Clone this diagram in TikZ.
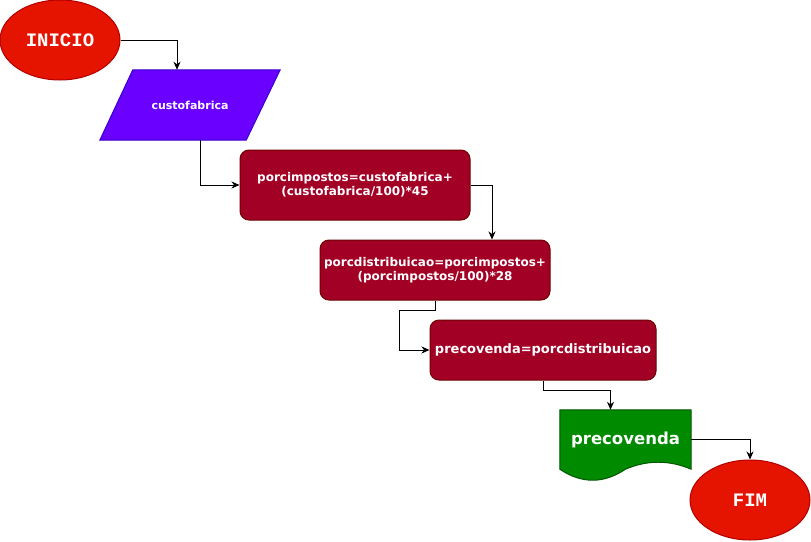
\documentclass[tikz,border=0pt]{standalone}
\usepackage{fontspec}
\setmainfont{DejaVu Sans}
\newfontfamily\termfont{Liberation Mono}
\usepackage{tikz}
\usetikzlibrary{shapes.geometric,arrows.meta,backgrounds}
\definecolor{termFill}{HTML}{E51400}
\definecolor{termLine}{HTML}{B20000}
\definecolor{ioFill}{HTML}{6A00FF}
\definecolor{ioLine}{HTML}{3700CC}
\definecolor{procFill}{HTML}{A20025}
\definecolor{procLine}{HTML}{6F0000}
\definecolor{docFill}{HTML}{008A00}
\definecolor{docLine}{HTML}{005700}
\tikzset{
  termNode/.style={ellipse, fill=termFill, draw=termLine, line width=1pt, minimum width=120pt, minimum height=80pt, inner sep=0pt, text=white, font=\termfont\bfseries\fontsize{19}{21}\selectfont},
  ioNode/.style={rectangle, minimum width=180pt, minimum height=70pt, inner sep=0pt, text=white, font=\bfseries\fontsize{11}{13}\selectfont},
  ioShape/.style={fill=ioFill, draw=ioLine, line width=1pt},
  procNode/.style={rectangle, rounded corners=9pt, fill=procFill, draw=procLine, line width=1pt, minimum width=230pt, minimum height=70pt, inner sep=0pt, align=center, text=white, font=\bfseries\fontsize{12}{14}\selectfont},
  docNode/.style={rectangle, minimum width=131pt, minimum height=59pt, inner sep=0pt, text=white, font=\bfseries\fontsize{16.5}{18}\selectfont},
  docShape/.style={fill=docFill, draw=docLine, line width=1pt},
  flowArrow/.style={draw=black, line width=1pt, -{Stealth[length=8pt, width=7pt, inset=2.5pt]}}
}
\begin{document}
\begin{tikzpicture}[x=1pt, y=-1pt]
  \useasboundingbox (0,0) rectangle (811,541);

  \node[termNode] (inicio) at (60,40) {INICIO};
  \node[ioNode] (entrada) at (190,105) {custofabrica};
  \node[procNode] (calc1) at (355,185) {porcimpostos=custofabrica+\\(custofabrica/100)*45};
  \node[procNode, minimum height=60pt] (calc2) at (435,270) {porcdistribuicao=porcimpostos+\\(porcimpostos/100)*28};
  \node[procNode, minimum width=226pt, minimum height=60pt, font=\bfseries\fontsize{13}{15}\selectfont] (calc3) at (543,350) {precovenda=porcdistribuicao};
  \node[docNode] (saida) at (625.5,439.5) {precovenda};
  \node[termNode] (fim) at (750,500) {FIM};

  \begin{scope}[on background layer]
    \path[ioShape] (entrada.south west) -- ([xshift=-34pt]entrada.south east)
      -- (entrada.north east) -- ([xshift=33pt]entrada.north west) -- cycle;
    \path[docShape] (saida.north west) -- (saida.north east) -- (saida.south east)
      .. controls +(-22,-9.3) and +(21.7,-9.3) .. (saida.south)
      .. controls +(-21.8,14.7) and +(21.8,14.7) .. (saida.south west) -- cycle;
  \end{scope}

  \draw[flowArrow] (inicio.east) -| ([xshift=-13pt]entrada.north);
  \draw[flowArrow] ([xshift=10pt]entrada.south) |- (calc1.west);
  \draw[flowArrow] (calc1.east) -| ([xshift=57pt]calc2.north);
  \draw[flowArrow] (calc2.south) -- ++(0,10) -| ([xshift=-30pt]calc3.west) -- (calc3.west);
  \draw[flowArrow] (calc3.south) -- ++(0,10) -| ([xshift=-15pt]saida.north);
  \draw[flowArrow] (saida.east) -| (fim.north);
\end{tikzpicture}
\end{document}
